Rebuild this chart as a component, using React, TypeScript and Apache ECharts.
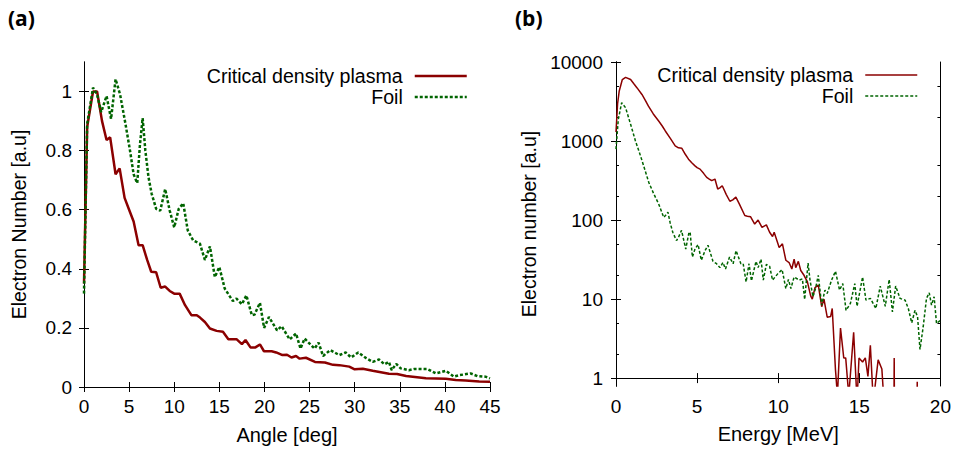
import React, { useEffect, useRef } from "react";
import * as echarts from "echarts";

// ---- Panel (a): angular distribution ----
const angleTicks = [0, 5, 10, 15, 20, 25, 30, 35, 40, 45];
const numberTicks = [0, 0.2, 0.4, 0.6, 0.8, 1];

const angleRed = [0, 0.35, 1.0, 1.45, 2.0, 2.5, 2.9, 3.5, 3.95, 4.5, 5.0, 5.5, 6.05, 6.5, 7.0, 7.45, 8.0, 8.5, 9.0, 9.5, 10.0, 10.6, 11.2, 11.9, 12.5, 12.86, 13.4, 13.96, 14.7, 15.4, 16.0, 16.9, 17.5, 17.9, 18.45, 19.0, 19.5, 19.95, 20.8, 21.3, 22.0, 22.5, 23.0, 23.5, 23.9, 24.6, 25.6, 26.7, 27.6, 28.3, 29.4, 30.0, 30.9, 32.0, 33.8, 34.7, 35.7, 37.9, 40.1, 41.2, 42.3, 43.8, 45];
const numberRed = [0.35, 0.88, 1.0, 1.0, 0.9, 0.836, 0.845, 0.72, 0.74, 0.64, 0.6, 0.56, 0.48, 0.48, 0.43, 0.39, 0.388, 0.336, 0.34, 0.325, 0.316, 0.316, 0.277, 0.243, 0.243, 0.235, 0.22, 0.198, 0.19, 0.187, 0.162, 0.162, 0.145, 0.159, 0.134, 0.134, 0.144, 0.121, 0.121, 0.117, 0.108, 0.109, 0.1, 0.105, 0.096, 0.099, 0.085, 0.083, 0.075, 0.074, 0.069, 0.06, 0.062, 0.055, 0.045, 0.044, 0.037, 0.03, 0.028, 0.024, 0.022, 0.019, 0.018];

const angleGreen = [0, 0.35, 1.0, 1.45, 1.9, 2.5, 3.0, 3.5, 4.0, 4.6, 5.1, 5.5, 5.9, 6.2, 6.5, 6.8, 7.15, 7.5, 8.0, 8.45, 9.0, 9.5, 10.0, 10.5, 11.0, 11.5, 12.1, 12.85, 13.4, 13.96, 14.5, 15.0, 15.6, 16.5, 16.9, 17.5, 18.0, 18.6, 18.9, 19.5, 19.96, 20.5, 21.4, 21.9, 22.8, 23.5, 24.0, 24.45, 25.55, 26.0, 26.5, 27.3, 28.3, 29.0, 29.6, 30.4, 31.3, 32.0, 32.7, 33.3, 33.8, 34.1, 34.6, 35.1, 36.0, 36.6, 38.05, 39.0, 40.1, 41.0, 41.6, 42.85, 43.6, 44.5, 45];
const numberGreen = [0.316, 0.89, 1.013, 0.99, 0.93, 0.985, 0.907, 1.042, 0.99, 0.89, 0.8, 0.72, 0.69, 0.82, 0.91, 0.8, 0.71, 0.654, 0.603, 0.597, 0.67, 0.597, 0.54, 0.603, 0.622, 0.53, 0.496, 0.485, 0.43, 0.476, 0.372, 0.406, 0.333, 0.291, 0.299, 0.28, 0.31, 0.243, 0.245, 0.285, 0.2, 0.237, 0.192, 0.206, 0.161, 0.181, 0.13, 0.164, 0.13, 0.15, 0.105, 0.125, 0.108, 0.117, 0.1, 0.117, 0.097, 0.085, 0.093, 0.077, 0.085, 0.057, 0.078, 0.063, 0.057, 0.061, 0.061, 0.046, 0.055, 0.035, 0.04, 0.046, 0.037, 0.035, 0.029];

// ---- Panel (b): energy spectrum ----
const energyTicks = [0, 5, 10, 15, 20];
const countDecades = [1, 10, 100, 1000, 10000];
const countMinor = [2, 5, 20, 50, 200, 500, 2000, 5000];

const energyRed = [0.0, 0.1, 0.2, 0.39, 0.59, 0.9, 1.1, 1.3, 1.6, 1.8, 2.0, 2.3, 2.63, 2.85, 3.04, 3.35, 3.65, 3.85, 4.06, 4.27, 4.47, 4.67, 4.87, 5.0, 5.18, 5.4, 5.59, 5.75, 5.9, 6.1, 6.27, 6.4, 6.55, 6.8, 7.02, 7.2, 7.39, 7.6, 7.94, 8.1, 8.3, 8.55, 8.76, 9.0, 9.27, 9.47, 9.65, 9.75, 10.06, 10.26, 10.47, 10.67, 10.84, 10.98, 11.08, 11.24, 11.39, 11.59, 11.8, 12.0, 12.1, 12.27, 12.47, 12.68, 12.82, 13.02, 13.23, 13.33, 13.53, 13.65, 13.84, 14.04, 14.16, 14.35, 14.65, 14.86, 14.98, 15.2, 15.37, 15.53, 15.68, 15.86, 16.16, 16.39, 16.52, 17.13, 17.15, 17.17, 18.55, 18.57, 18.59, 20];
const countRed = [1300, 3000, 4300, 6000, 6400, 6000, 5300, 4700, 3880, 3300, 2760, 2200, 1790, 1550, 1340, 1080, 870, 820, 810, 680, 590, 530, 485, 460, 441, 390, 347, 330, 315, 330, 247, 255, 272, 210, 173, 180, 195, 160, 114, 112, 110, 89, 100, 81, 87, 70, 62, 70, 45, 50, 31, 29, 24, 32, 25, 30, 23, 20, 16.5, 11, 10, 14, 15, 8, 10, 5.9, 6, 7.6, 1.27, 0.6, 4.3, 1.8, 1.8, 0.6, 3.8, 0.5, 1.8, 1.6, 1.8, 1.05, 2.6, 0.5, 1.7, 1.3, 0.5, 0.3, 1.8, 0.3, 0.3, 0.9, 0.3, 0.3];

const energyGreen = [0.0, 0.14, 0.35, 0.59, 0.9, 1.2, 1.4, 1.61, 1.8, 2.02, 2.33, 2.63, 2.94, 3.06, 3.2, 3.34, 3.5, 3.73, 3.86, 4.04, 4.3, 4.5, 4.57, 4.71, 4.87, 5.06, 5.26, 5.49, 5.67, 5.98, 6.2, 6.41, 6.59, 6.75, 7.0, 7.22, 7.4, 7.7, 7.84, 8.02, 8.2, 8.35, 8.63, 8.76, 8.94, 9.08, 9.27, 9.47, 9.65, 9.98, 10.24, 10.47, 10.63, 10.78, 10.98, 11.29, 11.49, 11.63, 11.84, 11.96, 12.14, 12.3, 12.47, 12.68, 12.88, 13.02, 13.29, 13.53, 13.78, 13.98, 14.18, 14.45, 14.72, 14.86, 15.2, 15.41, 15.68, 16.02, 16.29, 16.6, 16.84, 17.04, 17.24, 17.51, 17.82, 18.02, 18.23, 18.43, 18.59, 18.74, 18.94, 19.14, 19.31, 19.45, 19.61, 19.76, 20];
const countGreen = [790, 1870, 3050, 2640, 1630, 1000, 760, 560, 420, 300, 214, 160, 108, 115, 126, 92, 70, 55, 61, 74, 43, 70, 70, 34, 43, 49, 31, 41, 48, 30, 28, 25, 29, 24, 34, 28, 41, 28, 28, 16.5, 28, 17, 30, 25, 32, 17.4, 27.5, 26, 17.4, 21, 23.6, 13.6, 17.7, 13.6, 19, 17.4, 18, 9.9, 28.6, 17.4, 10.7, 13.6, 20, 8.4, 13, 11.8, 17.4, 22.5, 13, 15.7, 7.2, 8.8, 15.7, 8.1, 19, 9.7, 10.2, 7.6, 14.6, 8.1, 17.7, 6.9, 14.6, 10.2, 9.7, 7.6, 5, 7.2, 6, 2.3, 4.5, 10.2, 12, 8.4, 10.7, 4.9, 5.4];

const RED = "#8b0000";
const GREEN = "#006400";
const FONT = "Liberation Sans";
const seriesNames = ["Critical density plasma", "Foil"];

const zip = (xs: number[], ys: number[]) => xs.map((x, i) => [x, ys[i]]);
const zipLog = (xs: number[], ys: number[]) => xs.map((x, i) => [x, Math.log10(ys[i])]);
const log10 = (v: number) => Math.log10(v);

const tickStyle = { inside: true, length: 5, lineStyle: { color: "#000", width: 1 } };
const lineStyleAxis = { show: true, lineStyle: { color: "#000", width: 1 } };
const labelStyle = { fontSize: 19, color: "#000", fontFamily: FONT };
const nameStyle = { fontSize: 20, color: "#000", fontFamily: FONT };

function buildOption() {
  const xTop = (grid: number, min: number, max: number, ticks: number[]) => ({
    type: "value", gridIndex: grid, position: "top", min, max,
    axisLine: lineStyleAxis,
    axisTick: { ...tickStyle, customValues: ticks },
    axisLabel: { show: false }, splitLine: { show: false },
  });
  const yMirror = (grid: number, min: number, max: number, ticks: number[], pos: string, len: number) => ({
    type: "value", gridIndex: grid, position: pos, min, max,
    axisLine: lineStyleAxis,
    axisTick: { ...tickStyle, length: len, customValues: ticks },
    axisLabel: { show: false }, splitLine: { show: false },
  });
  const decadeLogs = countDecades.map(log10);
  const minorLogs = countMinor.map(log10);
  const legendBase = {
    orient: "vertical", align: "right", padding: 0,
    itemWidth: 52, itemHeight: 12, itemGap: 1, selectedMode: false,
    itemStyle: { opacity: 0, borderWidth: 0 },
    textStyle: { fontSize: 19.6, color: "#000", fontFamily: FONT, padding: [0, 7, 0, 0] },
  };
  return {
    animation: false,
    textStyle: { fontFamily: FONT },
    grid: [
      { left: 84, top: 62, right: 464, bottom: 64 },
      { left: 616, top: 62, right: 12.5, bottom: 65 },
    ],
    xAxis: [
      {
        type: "value", gridIndex: 0, position: "bottom", min: 0, max: 45,
        name: "Angle [deg]", nameLocation: "middle", nameGap: 38, nameTextStyle: nameStyle,
        axisLine: lineStyleAxis,
        axisTick: { ...tickStyle, customValues: angleTicks },
        axisLabel: { ...labelStyle, margin: 10, customValues: angleTicks, formatter: (v: number) => String(v) },
        splitLine: { show: false },
      },
      xTop(0, 0, 45, angleTicks),
      {
        type: "value", gridIndex: 1, position: "bottom", min: 0, max: 20,
        name: "Energy [MeV]", nameLocation: "middle", nameGap: 38, nameTextStyle: nameStyle,
        axisLine: lineStyleAxis,
        axisTick: { ...tickStyle, customValues: energyTicks },
        axisLabel: { ...labelStyle, margin: 11, customValues: energyTicks, formatter: (v: number) => String(v) },
        splitLine: { show: false },
      },
      xTop(1, 0, 20, energyTicks),
    ],
    yAxis: [
      {
        type: "value", gridIndex: 0, position: "left", min: 0, max: 1.1,
        name: "Electron Number [a.u]", nameLocation: "middle", nameGap: 55, nameTextStyle: { ...nameStyle, fontSize: 19.5 },
        axisLine: lineStyleAxis,
        axisTick: { ...tickStyle, customValues: numberTicks },
        axisLabel: { ...labelStyle, margin: 12, customValues: numberTicks, formatter: (v: number) => String(Math.round(v * 10) / 10) },
        splitLine: { show: false },
      },
      yMirror(0, 0, 1.1, numberTicks, "right", 5),
      {
        type: "value", gridIndex: 1, position: "left", min: -0.1, max: 4,
        name: "Electron number [a.u]", nameLocation: "middle", nameGap: 77, nameTextStyle: { ...nameStyle, fontSize: 19.5 },
        axisLine: lineStyleAxis,
        axisTick: { ...tickStyle, customValues: decadeLogs },
        axisLabel: { ...labelStyle, margin: 13, customValues: decadeLogs, formatter: (v: number) => String(Math.round(Math.pow(10, v))) },
        splitLine: { show: false },
      },
      yMirror(1, -0.1, 4, decadeLogs, "right", 5),
      yMirror(1, -0.1, 4, minorLogs, "left", 3),
      yMirror(1, -0.1, 4, minorLogs, "right", 3),
    ],
    legend: [
      {
        ...legendBase, right: 486, top: 66,
        data: [
          { name: seriesNames[0], lineStyle: { color: RED, width: 2.5 } },
          { name: seriesNames[1], lineStyle: { color: GREEN, width: 2.5, type: [3, 2] } },
        ],
      },
      {
        ...legendBase, right: 36, top: 65,
        data: [
          { name: seriesNames[0], lineStyle: { color: RED, width: 1.5 } },
          { name: seriesNames[1], lineStyle: { color: GREEN, width: 1.5, type: [3, 2] } },
        ],
      },
    ],
    graphic: [
      { type: "text", left: 8, top: 7, silent: true, style: { text: "(a)", fontSize: 21, fontWeight: "bold", fontFamily: "Open Sans", fill: "#000" } },
      { type: "text", left: 515, top: 7, silent: true, style: { text: "(b)", fontSize: 21, fontWeight: "bold", fontFamily: "Open Sans", fill: "#000" } },
    ],
    series: [
      {
        name: seriesNames[0], type: "line", xAxisIndex: 0, yAxisIndex: 0,
        data: zip(angleRed, numberRed), symbol: "none", showSymbol: false,
        lineStyle: { color: RED, width: 2.5 }, itemStyle: { color: RED }, z: 3,
      },
      {
        name: seriesNames[1], type: "line", xAxisIndex: 0, yAxisIndex: 0,
        data: zip(angleGreen, numberGreen), symbol: "none", showSymbol: false,
        lineStyle: { color: GREEN, width: 2.5, type: [3, 2] }, itemStyle: { color: GREEN }, z: 4,
      },
      {
        name: seriesNames[0], type: "line", xAxisIndex: 2, yAxisIndex: 2,
        data: zipLog(energyRed, countRed), symbol: "none", showSymbol: false, clip: true,
        lineStyle: { color: RED, width: 1.5 }, itemStyle: { color: RED }, z: 3,
      },
      {
        name: seriesNames[1], type: "line", xAxisIndex: 2, yAxisIndex: 2,
        data: zipLog(energyGreen, countGreen), symbol: "none", showSymbol: false, clip: true,
        lineStyle: { color: GREEN, width: 1.5, type: [3, 2] }, itemStyle: { color: GREEN }, z: 4,
      },
    ],
  };
}

export default function App() {
  const ref = useRef<HTMLDivElement>(null);
  useEffect(() => {
    if (!ref.current) return;
    const chart = echarts.init(ref.current, null, { renderer: "svg" });
    chart.setOption(buildOption() as any);
    return () => chart.dispose();
  }, []);
  return (
    <div
      ref={ref}
      style={{ position: "absolute", left: 0, top: 0, width: 954, height: 451, background: "#fff" }}
    />
  );
}
